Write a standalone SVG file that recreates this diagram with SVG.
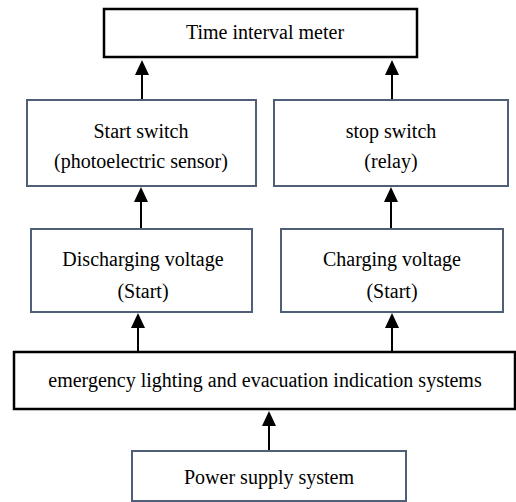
<svg xmlns="http://www.w3.org/2000/svg" width="516" height="502" viewBox="0 0 516 502">
<defs>
<marker id="ah" markerWidth="15" markerHeight="14" refX="7" refY="7" orient="auto" markerUnits="userSpaceOnUse" viewBox="0 0 15 14">
<path d="M0,0 L15,7 L0,14 Z" fill="#000"/>
</marker>
<style>
.bk{fill:#fff;stroke:#000;stroke-width:2.5}
.sl{fill:#fff;stroke:#4f5f78;stroke-width:2}
text{font-family:"Liberation Serif","Times New Roman",serif;font-size:20px;fill:#000;text-anchor:middle}
.c{stroke:#000;stroke-width:2;fill:none}
</style>
</defs>
<rect width="516" height="502" fill="#fff"/>
<g id="connectors">
<line class="c" x1="142" y1="100" x2="142" y2="68" marker-end="url(#ah)"/>
<line class="c" x1="392" y1="100" x2="392" y2="68" marker-end="url(#ah)"/>
<line class="c" x1="141" y1="229" x2="141" y2="195" marker-end="url(#ah)"/>
<line class="c" x1="391" y1="229" x2="391" y2="195" marker-end="url(#ah)"/>
<line class="c" x1="138" y1="352" x2="138" y2="321" marker-end="url(#ah)"/>
<line class="c" x1="392" y1="352" x2="392" y2="321" marker-end="url(#ah)"/>
<line class="c" x1="269" y1="451" x2="269" y2="419" marker-end="url(#ah)"/>
</g>
<g id="meter">
<rect class="bk" x="104" y="9" width="313" height="48"/>
<text x="265" y="39">Time interval meter</text>
</g>
<g id="start">
<rect class="sl" x="27" y="100" width="229" height="86"/>
<text x="141" y="138">Start switch</text>
<text x="141" y="168">(photoelectric sensor)</text>
</g>
<g id="stop">
<rect class="sl" x="274" y="100" width="234" height="86"/>
<text x="391" y="138">stop switch</text>
<text x="391" y="168">(relay)</text>
</g>
<g id="discharging">
<rect class="sl" x="31" y="229" width="221" height="83"/>
<text x="143" y="266">Discharging voltage</text>
<text x="143" y="298">(Start)</text>
</g>
<g id="charging">
<rect class="sl" x="281" y="229" width="222" height="83"/>
<text x="392" y="266">Charging voltage</text>
<text x="392" y="298">(Start)</text>
</g>
<g id="emergency">
<rect class="bk" x="14" y="352" width="501" height="57"/>
<text x="265" y="387">emergency lighting and evacuation indication systems</text>
</g>
<g id="power">
<rect class="sl" x="132" y="451" width="274" height="50"/>
<text x="269" y="484">Power supply system</text>
</g>
</svg>
